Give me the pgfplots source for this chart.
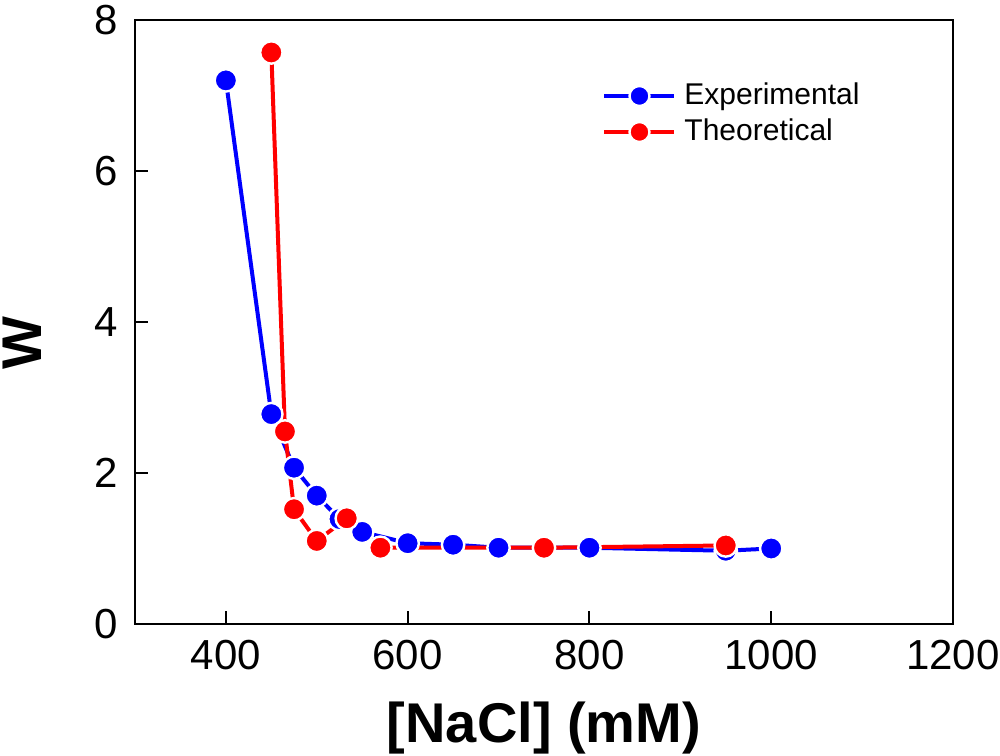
\documentclass[border=0pt]{standalone}
\usepackage{fontspec}
\setmainfont{Liberation Sans}
\usepackage{pgfplots}
\pgfplotsset{compat=1.18}
\begin{document}
\begin{tikzpicture}
\begin{axis}[
  name=ax,
  scale only axis,
  width=409pt, height=302pt,
  xmin=300, xmax=1200, ymin=0, ymax=8,
  xtick={400,600,800,1000,1200},
  ytick={0,2,4,6,8},
  tick pos=left, tick align=inside,
  major tick length=6.5pt,
  axis line style={line width=1pt},
  every tick/.style={black, line width=1pt},
  /pgf/number format/assume math mode=true,
  /pgf/number format/1000 sep={},
  ticklabel style={font=\fontsize{21}{25}\selectfont, inner sep=0pt},
  xticklabel style={anchor=north, yshift=-8pt},
  yticklabel style={anchor=east, xshift=-8.5pt},
  xlabel={[NaCl] (mM)},
  ylabel={W},
  xlabel style={at={(axis description cs:0.5,0)}, anchor=base, yshift=-59.5pt, inner sep=0pt, font=\fontsize{28}{32}\selectfont\bfseries},
  ylabel style={at={([xshift=-46.5pt]axis description cs:0,0.465)}, anchor=base, inner sep=0pt, font=\fontsize{28}{32}\selectfont\bfseries},
  legend style={at={(rel axis cs:0.571,0.898)}, anchor=north west, draw=none, fill=none, inner sep=0pt,
    font=\fontsize{15}{18}\selectfont,
    nodes={inner sep=0pt, text height=11pt, text depth=3pt, anchor=west},
    row sep=4pt},
  legend cell align=left,
  legend image code/.code={\draw[#1, every mark/.append style={draw=none}, mark size=5pt, mark repeat=2, mark phase=2] plot coordinates {(0pt,0pt) (17.5pt,0pt) (35pt,0pt)}; \path (39pt,0pt);},
]
\addplot[color=blue, line width=2pt, mark=*, mark size=5.6pt, mark options={solid, fill=blue, draw=white, line width=1.2pt}]
coordinates {
(400,7.20) (450,2.78) (475,2.07) (500,1.70) (525,1.39) (550,1.22)
(600,1.07) (650,1.05) (700,1.01) (800,1.01) (950,0.97) (1000,1.00)
};
\addlegendentry{Experimental}
\addplot[color=red, line width=2pt, mark=*, mark size=5.6pt, mark options={solid, fill=red, draw=white, line width=1.2pt}]
coordinates {
(450,7.57) (465,2.55) (475,1.52) (500,1.10) (533,1.40) (570,1.01)
(750,1.01) (950,1.04)
};
\addlegendentry{Theoretical}
\end{axis}
\pgfresetboundingbox
\path ([shift={(-67.5pt,-66pt)}]ax.south west) rectangle ([shift={(23.5pt,10pt)}]ax.north east);
\end{tikzpicture}
\end{document}
